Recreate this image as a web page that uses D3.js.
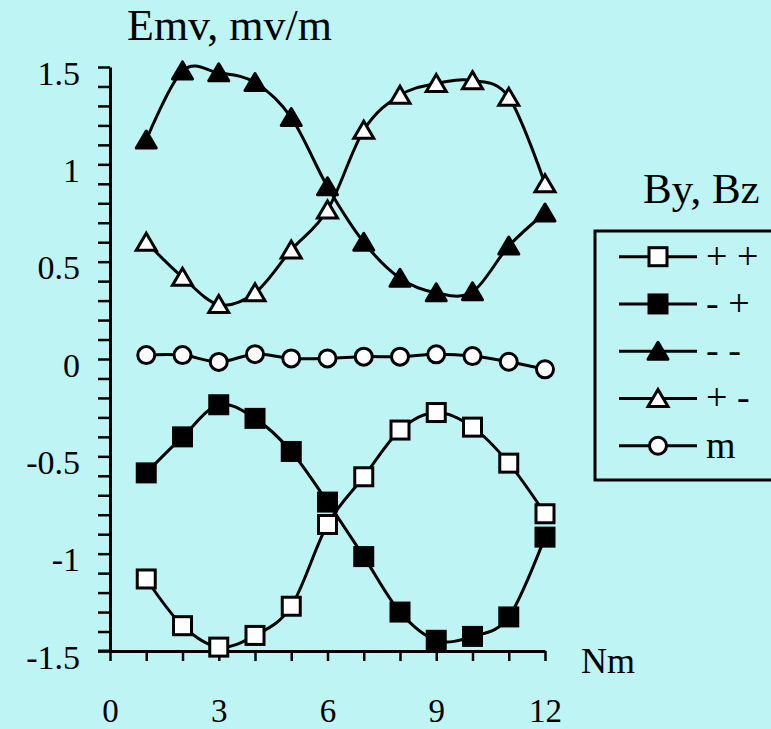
<!DOCTYPE html>
<html>
<head>
<meta charset="utf-8">
<script src="https://cdn.jsdelivr.net/npm/d3@7"></script>
<style>
  html, body { margin: 0; padding: 0; background: #bef5f4; }
  svg { display: block; }
  text { font-family: "Liberation Serif", "Times New Roman", serif; fill: #000; }
</style>
</head>
<body>
<svg id="chart" width="771" height="729"></svg>
<script>
// ---- data ----
const nm = [1, 2, 3, 4, 5, 6, 7, 8, 9, 10, 11, 12];
const seriesNames = ["+ +", "- +", "- -", "+ -", "m"];
const ppVals = [-1.13, -1.37, -1.48, -1.42, -1.27, -0.85, -0.605, -0.365, -0.275, -0.35, -0.535, -0.795];
const mpVals = [-0.585, -0.40, -0.235, -0.305, -0.475, -0.735, -1.015, -1.30, -1.445, -1.425, -1.325, -0.915];
const mmVals = [1.125, 1.48, 1.47, 1.42, 1.24, 0.885, 0.60, 0.415, 0.34, 0.345, 0.58, 0.75];
const pmVals = [0.60, 0.42, 0.28, 0.34, 0.56, 0.765, 1.175, 1.355, 1.415, 1.43, 1.345, 0.90];
const mVals  = [0.02, 0.02, -0.015, 0.025, 0.003, 0.003, 0.012, 0.012, 0.024, 0.015, -0.014, -0.053];
const xTickLabels = [0, 3, 6, 9, 12];
const yTickLabels = [-1.5, -1, -0.5, 0, 0.5, 1, 1.5];
const yTitle = "Emv, mv/m";
const xTitle = "Nm";
const legendTitle = "By, Bz";

const allVals = [ppVals, mpVals, mmVals, pmVals, mVals];
const markerTypes = ["squareOpen", "squareFilled", "triFilled", "triOpen", "circleOpen"];

// ---- layout ----
const svg = d3.select("#chart");
svg.append("rect").attr("width", 771).attr("height", 729).attr("fill", "#bef5f4");

const x = d3.scaleLinear().domain([0, 12]).range([110, 545]);
const y = d3.scaleLinear().domain([-1.5, 1.5]).range([651, 67]);
const fmt = d => String(d); // plain hyphen-minus, as in the reference

// ---- axes ----
const yMinor = d3.range(-15, 16).map(d => d / 10);
const yAxisG = svg.append("g").attr("transform", `translate(${x(0)},0)`)
  .call(d3.axisLeft(y).tickValues(yMinor).tickSize(12).tickSizeOuter(0).tickFormat(""));
yAxisG.select(".domain").attr("stroke-width", 3);
yAxisG.selectAll(".tick line").attr("stroke-width", 2.5);

const yLab = svg.append("g").attr("transform", `translate(${x(0)},0)`)
  .call(d3.axisLeft(y).tickValues(yTickLabels).tickSize(0).tickPadding(30).tickFormat(fmt));
yLab.select(".domain").remove();
yLab.selectAll("text").attr("dy", 17).style("font-size", "34px")
  .style("font-family", "'Liberation Serif', serif");

const xAxisG = svg.append("g").attr("transform", `translate(0,${y(-1.5)})`)
  .call(d3.axisBottom(x).tickValues(d3.range(0, 13)).tickSize(10).tickSizeOuter(0).tickFormat(""));
xAxisG.select(".domain").attr("stroke-width", 3);
xAxisG.selectAll(".tick line").attr("stroke-width", 2.5);
// extend x axis line left to meet the y tick end
svg.append("line").attr("x1", x(0) - 12).attr("x2", x(0)).attr("y1", y(-1.5)).attr("y2", y(-1.5))
  .attr("stroke", "#000").attr("stroke-width", 3);

const xLab = svg.append("g").attr("transform", `translate(0,${y(-1.5)})`)
  .call(d3.axisBottom(x).tickValues(xTickLabels).tickSize(0).tickFormat(fmt));
xLab.select(".domain").remove();
xLab.selectAll("text").attr("y", 71).attr("dy", 0).style("font-size", "33px")
  .style("font-family", "'Liberation Serif', serif");

// ---- titles ----
svg.append("text").attr("x", 127).attr("y", 40).style("font-size", "44px").text(yTitle);
svg.append("text").attr("x", 581).attr("y", 673).style("font-size", "36px").text(xTitle);
svg.append("text").attr("x", 643).attr("y", 203).style("font-size", "43px").text(legendTitle);

// ---- markers ----
function drawMarker(g, type) {
  if (type === "squareOpen" || type === "squareFilled") {
    g.append("rect").attr("x", -9).attr("y", -9).attr("width", 18).attr("height", 18)
      .attr("fill", type === "squareOpen" ? "#fff" : "#000")
      .attr("stroke", "#000").attr("stroke-width", 3);
  } else if (type === "triOpen" || type === "triFilled") {
    g.append("path").attr("d", "M0,-9 L10,8 L-10,8 Z")
      .attr("fill", type === "triOpen" ? "#fff" : "#000")
      .attr("stroke", "#000").attr("stroke-width", 3)
      .attr("stroke-linejoin", type === "triOpen" ? "miter" : "round");
  } else {
    g.append("circle").attr("r", 8.5).attr("fill", "#fff")
      .attr("stroke", "#000").attr("stroke-width", 3);
  }
}

// ---- series ----
const line = d3.line().x(d => x(d[0])).y(d => y(d[1])).curve(d3.curveCardinal.tension(0));
allVals.forEach((vals, i) => {
  const pts = nm.map((n, j) => [n, vals[j]]);
  svg.append("path").datum(pts).attr("d", line)
    .attr("fill", "none").attr("stroke", "#000").attr("stroke-width", 3);
});
allVals.forEach((vals, i) => {
  nm.forEach((n, j) => {
    const g = svg.append("g").attr("transform", `translate(${x(n)},${y(vals[j])})`);
    drawMarker(g, markerTypes[i]);
  });
});

// ---- legend ----
svg.append("rect").attr("x", 595).attr("y", 231).attr("width", 200).attr("height", 249)
  .attr("fill", "none").attr("stroke", "#000").attr("stroke-width", 3);
const legRowY = d3.scaleLinear().domain([0, 4]).range([256.7, 445.7]);
seriesNames.forEach((name, i) => {
  const yy = legRowY(i);
  svg.append("line").attr("x1", 619).attr("x2", 697).attr("y1", yy).attr("y2", yy)
    .attr("stroke", "#000").attr("stroke-width", 3);
  const g = svg.append("g").attr("transform", `translate(658,${yy})`);
  drawMarker(g, markerTypes[i]);
  svg.append("text").attr("x", 706).attr("y", yy + 12).style("font-size", "38px")
    .attr("xml:space", "preserve").text(name);
});
</script>
</body>
</html>
